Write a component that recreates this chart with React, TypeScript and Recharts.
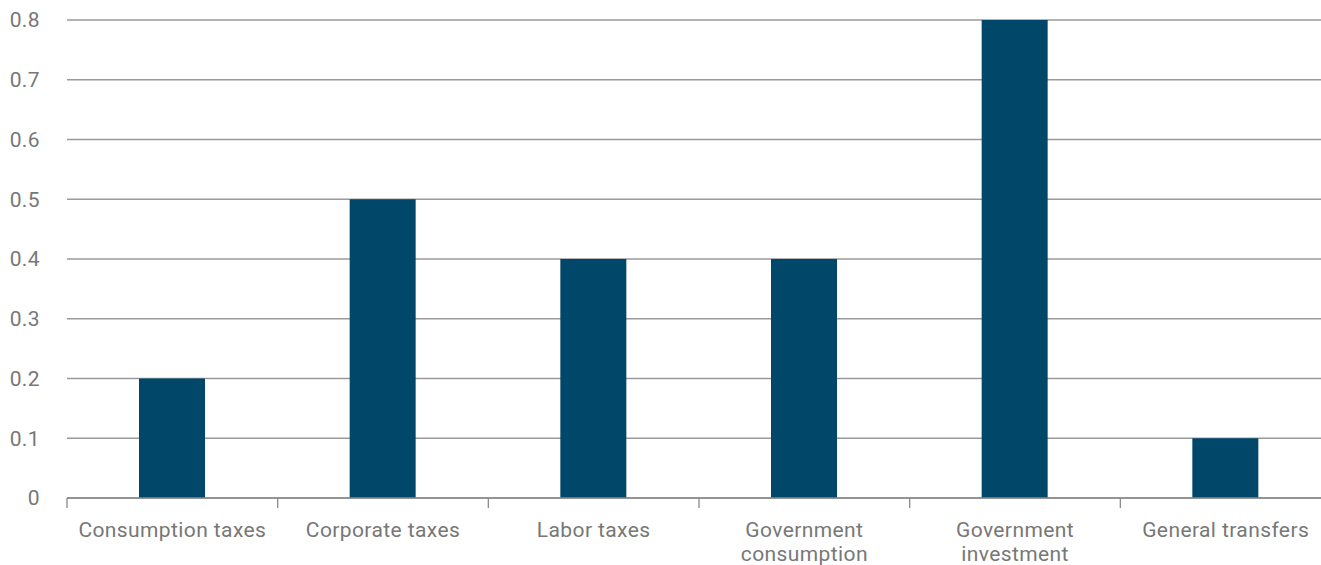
import React from 'react';
import { BarChart, Bar, XAxis, YAxis, CartesianGrid } from 'recharts';

const categories = [
  'Consumption taxes',
  'Corporate taxes',
  'Labor taxes',
  'Government consumption',
  'Government investment',
  'General transfers',
];
const categoryLabelLines = [
  ['Consumption taxes'],
  ['Corporate taxes'],
  ['Labor taxes'],
  ['Government', 'consumption'],
  ['Government', 'investment'],
  ['General transfers'],
];
const values = [0.2, 0.5, 0.4, 0.4, 0.8, 0.1];
const yTicks = [0, 0.1, 0.2, 0.3, 0.4, 0.5, 0.6, 0.7, 0.8];

const data = categories.map((c, i) => ({ name: c, value: values[i] }));

const FONT = 'Roboto, sans-serif';
const TEXT_COLOR = '#777777';
const CHART_W = 1331;
const CHART_H = 565;
const Y_AXIS_W = 67;
const TICK_MARGIN = 24;
const BAND = (CHART_W - Y_AXIS_W) / categories.length;

const CatTick = (props: any) => {
  const { x, y, payload, index } = props;
  const idx = typeof index === 'number' ? index : categories.indexOf(payload.value);
  const lines = categoryLabelLines[idx] || [payload.value];
  const axisY = y - TICK_MARGIN;
  const bx = x - BAND / 2;
  return (
    <g>
      <line x1={bx} x2={bx} y1={axisY} y2={axisY + 10} stroke="#8a8a8a" strokeWidth={1.3} />
      <text
        x={x}
        y={y}
        textAnchor="middle"
        fill={TEXT_COLOR}
        fontSize={21}
        fontFamily={FONT}
        letterSpacing={0.4}
      >
        {lines.map((l, i) => (
          <tspan key={i} x={x} dy={i === 0 ? '0.71em' : 24.5}>
            {l}
          </tspan>
        ))}
      </text>
    </g>
  );
};

export default function App() {
  return (
    <div style={{ position: 'absolute', left: 0, top: 0, width: 1321, height: 565, overflow: 'hidden' }}>
      <BarChart
        width={CHART_W}
        height={CHART_H}
        data={data}
        margin={{ top: 20, right: 0, bottom: 0, left: 0 }}
      >
        <CartesianGrid horizontal vertical={false} stroke="#9a9a9a" strokeWidth={1.3} />
        <XAxis
          dataKey="name"
          height={67}
          axisLine={{ stroke: '#8a8a8a', strokeWidth: 1.3 }}
          tickLine={false}
          tickSize={0}
          tickMargin={TICK_MARGIN}
          interval={0}
          tick={<CatTick />}
        />
        <YAxis
          width={Y_AXIS_W}
          domain={[0, 0.8]}
          ticks={yTicks}
          axisLine={false}
          tickLine={false}
          tickSize={0}
          tickMargin={27}
          tick={{ fill: TEXT_COLOR, fontSize: 21, fontFamily: FONT, letterSpacing: 0.4 }}
        />
        <Bar dataKey="value" fill="#00476a" barSize={66} isAnimationActive={false} />
      </BarChart>
    </div>
  );
}
